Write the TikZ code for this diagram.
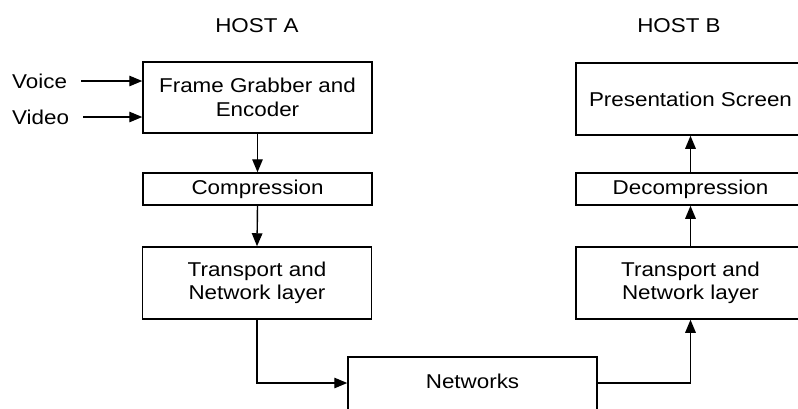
\documentclass[tikz,border=0pt]{standalone}
\usepackage{fontspec}
\setmainfont{Liberation Sans}[FakeStretch=1.12]
\usetikzlibrary{arrows.meta}
\begin{document}
\begin{tikzpicture}[x=1pt,y=-1pt,
  font=\fontsize{20}{23.5}\selectfont,
  box/.style={draw, line width=1.5pt, align=center, inner sep=0pt,
              minimum width=229pt},
  lbl/.style={inner sep=0pt},
  arr/.style={line width=1.4pt, -{Triangle[length=13pt,width=10.5pt]}}]
\useasboundingbox (0,0) rectangle (798,408);
\clip (0,0) rectangle (798,408);

% column headings
\node[lbl] (hosta) at (257,26) {HOST A};
\node[lbl] (hostb) at (679,26) {HOST B};

% sending side
\node[box, minimum height=71pt] (frame) at (257.5,97.5) {Frame Grabber and\\Encoder};
\node[box, minimum height=32pt] (comp) at (257.5,189) {Compression};
\node[box, minimum height=72pt] (tna) at (257,283) {Transport and\\Network layer};

% inputs
\node[lbl, anchor=west] (voice) at (12,81) {Voice};
\node[lbl, anchor=west] (video) at (12,117) {Video};

% receiving side
\node[box, minimum height=72pt] (pres) at (690.5,99) {Presentation Screen};
\node[box, minimum height=32pt] (decomp) at (690.5,189) {Decompression};
\node[box, minimum height=72pt] (tnb) at (690.5,283) {Transport and\\Network layer};

% network in between, running off the lower edge
\node[box, minimum width=249pt, minimum height=60pt] (net) at (472.5,387) {};
\node[lbl] (netlbl) at (472.5,381) {Networks};
\coordinate (netin) at (net.west |- 0,383);
\coordinate (netout) at (net.east |- 0,383);

% connectors
\draw[arr, shorten <=14pt] (voice.east) -- (voice.east -| frame.west);
\draw[arr, shorten <=14pt] (video.east) -- (video.east -| frame.west);
\draw[arr] (frame.south) -- (comp.north);
\draw[arr] (comp.south) -- (tna.north);
\draw[arr] (tna.south) |- (netin);
\draw[arr] (netout) -| (tnb.south);
\draw[arr] (tnb.north) -- (decomp.south);
\draw[arr] (decomp.north) -- (pres.south);
\end{tikzpicture}
\end{document}
